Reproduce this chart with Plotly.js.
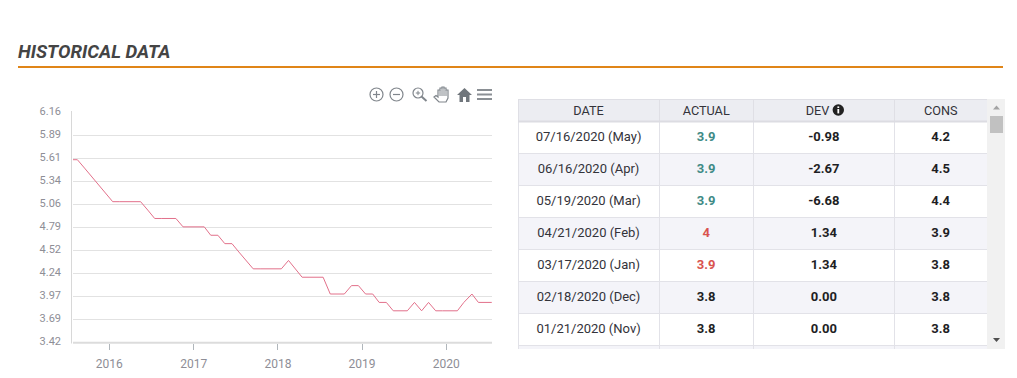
<!DOCTYPE html>
<html><head><meta charset="utf-8">
<script src="https://cdn.plot.ly/plotly-3.0.1.min.js"></script>
<style>html,body{margin:0;padding:0;background:#fff;overflow:hidden}#c{width:1017px;height:378px}
#cells1 .cell-text,#cells2 .cell-text{transform:translateY(2px)}
#header .cell-text{transform:translateY(-2px)}
</style>
</head><body><div id="c"></div>
<script>
const W=1017,H=378;
const dates=["2015-07-15","2015-08-16","2015-09-16","2015-10-16","2015-11-16","2015-12-16",
"2016-01-16","2016-02-16","2016-03-16","2016-04-16","2016-05-16","2016-06-16","2016-07-16","2016-08-16","2016-09-16","2016-10-16","2016-11-16","2016-12-16",
"2017-01-16","2017-02-16","2017-03-16","2017-04-16","2017-05-16","2017-06-16","2017-07-16","2017-08-16","2017-09-16","2017-10-16","2017-11-16","2017-12-16",
"2018-01-16","2018-02-16","2018-03-16","2018-04-16","2018-05-16","2018-06-16","2018-07-16","2018-08-16","2018-09-16","2018-10-16","2018-11-16","2018-12-16",
"2019-01-16","2019-02-16","2019-03-16","2019-04-16","2019-05-16","2019-06-16","2019-07-16","2019-08-16","2019-09-16","2019-10-16","2019-11-16","2019-12-16",
"2020-01-21","2020-02-18","2020-03-17","2020-04-21","2020-05-19","2020-06-16","2020-07-16"];
const rates=[5.6,5.6,5.5,5.4,5.3,5.2,
5.1,5.1,5.1,5.1,5.1,5.0,4.9,4.9,4.9,4.9,4.8,4.8,
4.8,4.8,4.7,4.7,4.6,4.6,4.5,4.4,4.3,4.3,4.3,4.3,
4.3,4.4,4.3,4.2,4.2,4.2,4.2,4.0,4.0,4.0,4.1,4.1,
4.0,4.0,3.9,3.9,3.8,3.8,3.8,3.9,3.8,3.9,3.8,3.8,
3.8,3.8,3.9,4.0,3.9,3.9,3.9];
const yTickVals=[6.16,5.886,5.612,5.338,5.064,4.79,4.516,4.242,3.968,3.694,3.42];
const yTickText=["6.16","5.89","5.61","5.34","5.06","4.79","4.52","4.24","3.97","3.69","3.42"];
const xTickVals=["2016-01-01","2017-01-01","2018-01-01","2019-01-01","2020-01-01"];
const xTickText=["2016","2017","2018","2019","2020"];

const tableHeader=["DATE","ACTUAL","DEV    ","CONS"];
const tableDates=["07/16/2020 (May)","06/16/2020 (Apr)","05/19/2020 (Mar)","04/21/2020 (Feb)","03/17/2020 (Jan)","02/18/2020 (Dec)","01/21/2020 (Nov)",""];
const tableActual=["3.9","3.9","3.9","4","3.9","3.8","3.8",""];
const tableDev=["-0.98","-2.67","-6.68","1.34","1.34","0.00","0.00",""];
const tableCons=["4.2","4.5","4.4","3.9","3.8","3.8","3.8",""];
const actualColors=["#3f8a86","#3f8a86","#3f8a86","#d9534f","#d9534f","#1e1e24","#1e1e24","#1e1e24"];
const rowFills=["#ffffff","#f4f4f9","#ffffff","#f4f4f9","#ffffff","#f4f4f9","#ffffff","#f4f4f9"];

const px=x=>x/W, py=y=>1-y/H;
const GRAY="#80868c";
function rect(x0,y0,x1,y1,fill,line){return {type:"rect",xref:"paper",yref:"paper",x0:px(x0),x1:px(x1),y0:py(y0),y1:py(y1),fillcolor:fill,line:{width:line?1:0,color:line||fill},layer:"above"};}
function circ(cx,cy,r,fill,line){return {type:"circle",xref:"paper",yref:"paper",x0:px(cx-r),x1:px(cx+r),y0:py(cy-r),y1:py(cy+r),fillcolor:fill||"rgba(0,0,0,0)",line:{width:line?1.2:0,color:line||fill},layer:"above"};}
function seg(x0,y0,x1,y1,c,w){return {type:"line",xref:"paper",yref:"paper",x0:px(x0),x1:px(x1),y0:py(y0),y1:py(y1),line:{color:c,width:w},layer:"above"};}
function poly(pts,fill,stroke){return {type:"path",xref:"paper",yref:"paper",path:"M"+pts.map(p=>px(p[0])+","+py(p[1])).join("L")+"Z",fillcolor:fill,line:{width:stroke?1.2:0,color:stroke||fill},layer:"above"};}

const shapes=[
 rect(18,66,1003,68,"#e08518"),
 // scrollbar
 rect(987,99,1005,349,"#f1f1f1"),
 rect(990,116,1003,133,"#c1c1c1"),
 poly([[996.5,105.5],[993,109.5],[1000,109.5]],"#a3a3a3"),
 poly([[996.5,342],[993,338],[1000,338]],"#505050"),
 // axis lines
 seg(71.5,111,71.5,343.5,"#d8d8d8",1),
 seg(73,342.7,492,342.7,"#dcdcdc",2),
 // table header rule
 seg(518,121.5,987,121.5,"#dcdce2",2),
 // info icon
 circ(838.3,110,5.7,"#222222"),
 seg(838.3,109,838.3,113.4,"#ffffff",1.8),
 seg(838.3,106.4,838.3,108,"#ffffff",1.8),
 // toolbar
 circ(376.5,94.5,6.5,null,GRAY), seg(373,94.5,380,94.5,GRAY,1.2), seg(376.5,91,376.5,98,GRAY,1.2),
 circ(396.5,94.5,6.5,null,GRAY), seg(393,94.5,400,94.5,GRAY,1.2),
 circ(418,93,5,null,GRAY), seg(421.5,96.5,426.5,101,GRAY,2), seg(415.8,93,420.2,93,GRAY,1), seg(418,90.8,418,95.2,GRAY,1),
 poly([[464.5,88],[457,95],[459.5,95],[459.5,102],[463,102],[463,97],[466,97],[466,102],[469.5,102],[469.5,95],[472,95]],"#70767c"),
 seg(477,90,492,90,"#8a8f94",2), seg(477,94.5,492,94.5,"#8a8f94",2), seg(477,99,492,99,"#8a8f94",2),
 // hand
 poly([[434,97],[436,95.5],[438,97],[438,90],[440,90],[440,88],[442,88],[442,87],[444,87],[444,88],[446,88],[446,90],[448,90],[448,98],[446,102],[439,102]],"#ffffff",GRAY),
 seg(440,90,440,96,GRAY,1), seg(442,88,442,96,GRAY,1), seg(444,88,444,96,GRAY,1), seg(446,90,446,96,GRAY,1)
];

const line={type:"scatter",mode:"lines",x:dates,y:rates,line:{color:"#e2708a",width:1},hoverinfo:"skip",xaxis:"x",yaxis:"y"};
const table={type:"table",domain:{x:[518/W,987/W],y:[1-349/H,1-99/H]},columnwidth:[141,94,141,92.5],
 header:{values:tableHeader,align:"center",height:22,fill:{color:"#ecedf2"},line:{color:"#dfdfe5",width:1},font:{family:"Roboto",size:12.7,color:"#33333a"}},
 cells:{values:[tableDates,tableActual,tableDev,tableCons],align:"center",height:32,
  fill:{color:[rowFills]},line:{color:"#e2e2e8",width:1},
  font:{family:"Roboto",size:13,color:["#33333a",actualColors,"#1e1e24","#1e1e24"],weight:[400,700,700,700]}}};

const layout={width:W,height:H,margin:{l:0,r:0,t:0,b:0},paper_bgcolor:"#fff",plot_bgcolor:"#fff",showlegend:false,
 font:{family:"Roboto"},
 xaxis:{domain:[73/W,492/W],type:"date",range:["2015-07-28","2020-07-17"],tickmode:"array",tickvals:xTickVals,ticktext:xTickText,
  showgrid:false,zeroline:false,showline:false,ticks:"outside",ticklen:6,tickcolor:"#b0b6bb",tickwidth:1,ticklabelstandoff:4,tickfont:{family:"Roboto",size:12,color:"#8e8e96"},anchor:"y"},
 yaxis:{domain:[1-342.7/H,1-112.7/H],range:[3.42,6.16],tickmode:"array",tickvals:yTickVals,ticktext:yTickText,
  showgrid:true,gridcolor:"#e2e2e2",gridwidth:1,zeroline:false,showline:false,ticks:"",ticklabelstandoff:11,ticklabelshift:-2,tickfont:{family:"Roboto",size:11,color:"#8e8e96"},anchor:"x"},
 shapes:shapes,
 annotations:[
  {xref:"paper",yref:"paper",x:px(16),y:py(52),xanchor:"left",yanchor:"middle",showarrow:false,text:"<b><i>HISTORICAL DATA</i></b>",font:{family:"Roboto",size:18.6,color:"#444444"}}
 ]};
Plotly.newPlot("c",[line,table],layout,{displayModeBar:false});
</script></body></html>
